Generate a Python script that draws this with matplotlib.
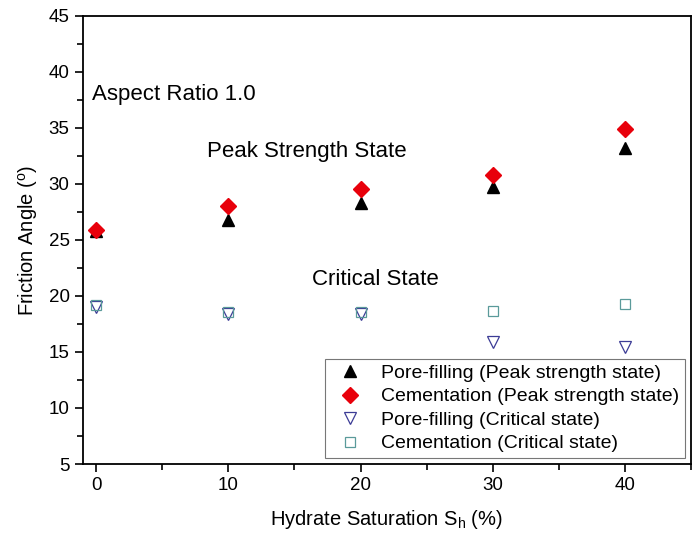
import numpy as np
import matplotlib.pyplot as plt
from matplotlib.ticker import MultipleLocator

plt.rcParams['font.family'] = ['Liberation Sans', 'DejaVu Sans']

# dados
sh = [0, 10, 20, 30, 40]
pico_pore = [25.8, 26.8, 28.3, 29.7, 33.2]
pico_cem = [25.9, 28.0, 29.5, 30.8, 34.9]
crit_pore = [19.0, 18.4, 18.4, 15.9, 15.4]
crit_cem = [19.2, 18.6, 18.6, 18.7, 19.3]

fig = plt.figure(figsize=(6.96, 5.44), dpi=100)
ax = fig.add_axes([0.119, 0.147, 0.874, 0.824])

ax.plot(sh, pico_pore, linestyle='none', marker='^', markersize=9, color='black',
        label='Pore-filling (Peak strength state)')
ax.plot(sh, pico_cem, linestyle='none', marker='D', markersize=8, color='#e8000b',
        label='Cementation (Peak strength state)')
ax.plot(sh, crit_pore, linestyle='none', marker='v', markersize=9, markerfacecolor='none',
        markeredgecolor='#3c3c96', markeredgewidth=0.9, label='Pore-filling (Critical state)')
ax.plot(sh, crit_cem, linestyle='none', marker='s', markersize=7, markerfacecolor='none',
        markeredgecolor='#5a9a9a', markeredgewidth=0.9, label='Cementation (Critical state)')

ax.set_xlim(-1, 45)
ax.set_ylim(5, 45)
ax.xaxis.set_major_locator(MultipleLocator(10))
ax.xaxis.set_minor_locator(MultipleLocator(5))
ax.yaxis.set_major_locator(MultipleLocator(5))
ax.yaxis.set_minor_locator(MultipleLocator(2.5))
ax.tick_params(which='both', direction='out', top=False, right=False, labelsize=13.5, width=1.2)
ax.tick_params(which='major', length=6)
ax.tick_params(which='minor', length=4)
for s in ax.spines.values():
    s.set_linewidth(1.3)

ax.set_xlabel('Hydrate Saturation S$_\\mathregular{h}$ (%)', fontsize=14.5, labelpad=10)
ax.set_ylabel('Friction Angle ($^\\mathregular{o}$)', fontsize=14.5, labelpad=6)

ax.text(-0.3, 38.0, 'Aspect Ratio 1.0', fontsize=16, va='center')
ax.text(8.4, 32.9, 'Peak Strength State', fontsize=16, va='center')
ax.text(16.3, 21.5, 'Critical State', fontsize=16, va='center')

leg = ax.legend(loc='lower right', fontsize=14, frameon=True, fancybox=False,
                edgecolor='#555555', borderaxespad=0.3, handletextpad=0.6,
                labelspacing=0.3, borderpad=0.3)
leg.get_frame().set_linewidth(0.8)

fig.savefig('out.png', dpi=100)
